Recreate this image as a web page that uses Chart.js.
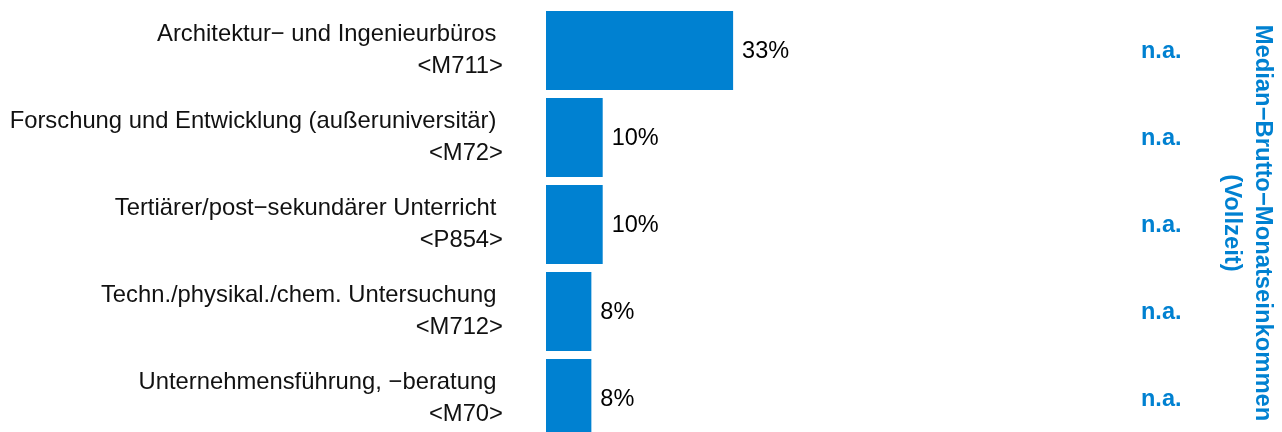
<!DOCTYPE html>
<html>
<head>
<meta charset="utf-8">
<script src="https://cdn.jsdelivr.net/npm/chart.js@4.4.1/dist/chart.umd.min.js"></script>
<style>
  html, body { margin: 0; padding: 0; background: #fff; overflow: hidden; }
  #chart { display: block; }
</style>
</head>
<body>
<canvas id="chart" width="1282" height="444"></canvas>
<script>
"use strict";

// data
var categories = [
  ["Architektur\u2212 und Ingenieurbüros ", "<M711>"],
  ["Forschung und Entwicklung (außeruniversitär) ", "<M72>"],
  ["Tertiärer/post\u2212sekundärer Unterricht ", "<P854>"],
  ["Techn./physikal./chem. Untersuchung ", "<M712>"],
  ["Unternehmensführung, \u2212beratung ", "<M70>"]
];
var shares = [33, 10, 10, 8, 8];
var medianIncome = ["n.a.", "n.a.", "n.a.", "n.a.", "n.a."];
var sideTitle = ["Median\u2212Brutto\u2212Monatseinkommen", "(Vollzeit)"];

var blue = "#0081D1";
var fontFamily = "'Liberation Sans', Arial, Helvetica, sans-serif";

var barLabels = {
  id: "barLabels",
  afterDatasetsDraw: function (chart) {
    var ctx = chart.ctx;
    var meta = chart.getDatasetMeta(0);
    ctx.save();
    ctx.textBaseline = "middle";
    meta.data.forEach(function (bar, i) {
      // percentage next to bar
      ctx.font = "23.5px " + fontFamily;
      ctx.fillStyle = "#000";
      ctx.textAlign = "left";
      ctx.fillText(shares[i] + "%", bar.x + 9, bar.y + 1);
      // median column
      ctx.font = "bold 23.5px " + fontFamily;
      ctx.fillStyle = blue;
      ctx.fillText(medianIncome[i], 1141, bar.y + 1);
    });
    // rotated side title
    ctx.save();
    ctx.translate(1263, 223);
    ctx.rotate(Math.PI / 2);
    ctx.textAlign = "center";
    ctx.font = "bold 23.8px " + fontFamily;
    ctx.fillStyle = blue;
    ctx.fillText(sideTitle[0], 0, 0);
    ctx.fillText(sideTitle[1], 0, 31);
    ctx.restore();
    ctx.restore();
  }
};

new Chart(document.getElementById("chart"), {
  type: "bar",
  data: {
    labels: categories,
    datasets: [{
      data: shares,
      backgroundColor: blue,
      borderWidth: 0,
      categoryPercentage: 1,
      barPercentage: 0.908
    }]
  },
  options: {
    indexAxis: "y",
    responsive: false,
    animation: false,
    events: [],
    layout: {
      padding: { top: 7, bottom: 2, left: 0, right: 169 }
    },
    plugins: {
      legend: { display: false },
      tooltip: { enabled: false }
    },
    scales: {
      x: {
        display: false,
        min: 0,
        max: 100
      },
      y: {
        grid: { display: false, drawTicks: false },
        border: { display: false },
        ticks: {
          color: "#111",
          padding: 43,
          font: { size: 23.8, family: fontFamily, lineHeight: 1.33 }
        },
        afterFit: function (scale) {
          scale.width = 546;
          scale.paddingTop = 0;
          scale.paddingBottom = 0;
        }
      }
    }
  },
  plugins: [barLabels]
});
</script>
</body>
</html>
